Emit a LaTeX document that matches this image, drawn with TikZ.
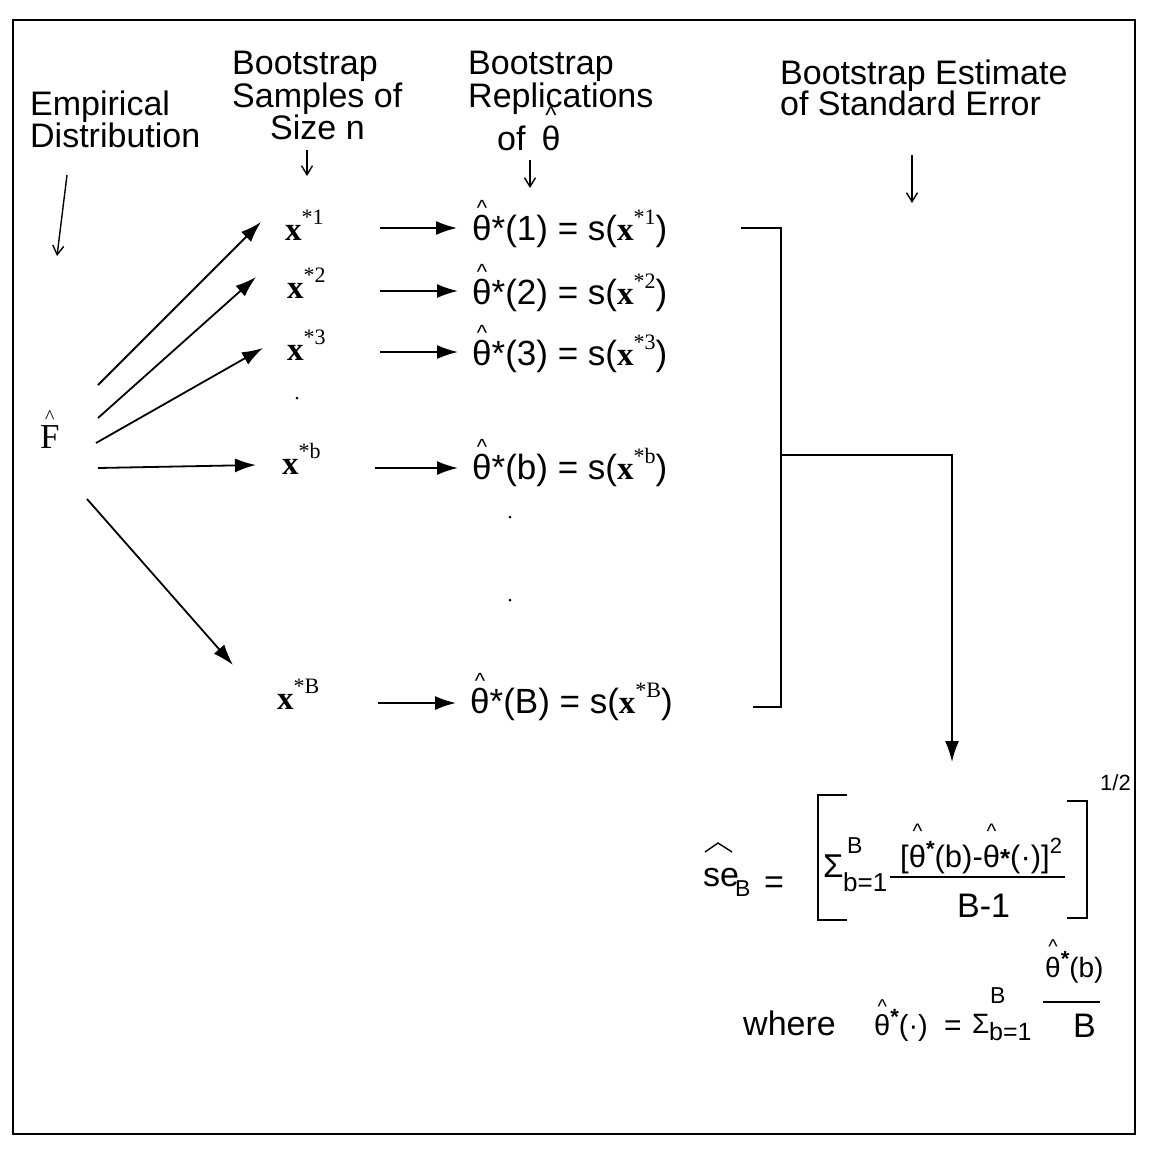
\documentclass[tikz,border=0pt]{standalone}
\usepackage{fontspec}
\setmainfont{Liberation Sans}
\newfontfamily\tms{Liberation Serif}
\usetikzlibrary{arrows.meta}
\newcommand\fs[1]{\fontsize{#1}{#1}\selectfont}
% hat over a glyph: #1 raise, #2 hat size, #3 base
\newcommand\hatt[3]{\ooalign{#3\cr\hidewidth\raisebox{#1}{\fs{#2}\char"5E}\hidewidth\cr}}
\newcommand\xx[1]{{\tms\bfseries\fs{33}x}\raisebox{16pt}{\tms\fs{22}*#1}}
\newcommand\rowth[1]{\hatt{25pt}{22}{θ}*(#1) = s(\xx{#1})}
\tikzset{
  lbl/.style={inner sep=0pt, anchor=base west, font=\fs{34}},
  arr/.style={-{Latex[length=21pt,width=14pt]}, line width=1.8pt},
  sarr/.style={-{Straight Barb[length=9pt,width=11pt]}, line width=1.4pt},
  ln/.style={line width=1.8pt},
  dotm/.style={circle, fill=black, inner sep=0pt, minimum size=3pt}
}
\begin{document}
\begin{tikzpicture}[x=1pt,y=-1pt]
\useasboundingbox (0,0) rectangle (1150,1154);
\draw[line width=2pt] (13,20) rectangle (1135,1134);

% headers
\node[lbl] (emp1) at (30,115) {Empirical};
\node[lbl] (emp2) at (30,147) {Distribution};
\node[lbl] (bs1) at (232,74) {Bootstrap};
\node[lbl] (bs2) at (232,107) {Samples of};
\node[lbl] (bs3) at (270,139) {Size n};
\node[lbl] (br1) at (468,74) {Bootstrap};
\node[lbl] (br2) at (468,107) {Replications};
\node[lbl] (br3) at (497,150) {of\hspace{16pt}\hatt{27pt}{24}{θ}};
\node[lbl] (be1) at (780,84) {Bootstrap Estimate};
\node[lbl] (be2) at (780,115) {of Standard Error};

% small down arrows
\coordinate (a0s) at (67,175); \coordinate (a0e) at (57,256);
\coordinate (a1s) at (307,150); \coordinate (a1e) at (307,176);
\coordinate (a2s) at (530,160); \coordinate (a2e) at (530,188);
\coordinate (a3s) at (912,155); \coordinate (a3e) at (912,203);
\draw[sarr] (a0s) -- (a0e);
\draw[sarr] (a1s) -- (a1e);
\draw[sarr] (a2s) -- (a2e);
\draw[sarr] (a3s) -- (a3e);

% F hat
\node[inner sep=0pt, anchor=base west, font=\tms\fs{35}] (F) at (40,448) {\hatt{25pt}{20}{F}};

% sample labels
\node[inner sep=0pt, anchor=base west] (x1) at (285,240) {\xx{1}};
\node[inner sep=0pt, anchor=base west] (x2) at (287,298) {\xx{2}};
\node[inner sep=0pt, anchor=base west] (x3) at (287,360) {\xx{3}};
\node[inner sep=0pt, anchor=base west] (xb) at (282,474) {\xx{b}};
\node[inner sep=0pt, anchor=base west] (xB) at (277,709) {\xx{B}};

% replications
\node[lbl, font=\fs{35}] (t1) at (472,240) {\rowth{1}};
\node[lbl, font=\fs{35}] (t2) at (472,304) {\rowth{2}};
\node[lbl, font=\fs{35}] (t3) at (472,365) {\rowth{3}};
\node[lbl, font=\fs{35}] (tb) at (472,479) {\rowth{b}};
\node[lbl, font=\fs{35}] (tB) at (470,713) {\rowth{B}};

% arrows from F hat
\coordinate (f1s) at (98,385);  \coordinate (f1e) at (261,222);
\coordinate (f2s) at (98,418);  \coordinate (f2e) at (256,277);
\coordinate (f3s) at (96,443);  \coordinate (f3e) at (263,348);
\coordinate (fbs) at (98,468);  \coordinate (fbe) at (256,465);
\coordinate (fBs) at (87,499);  \coordinate (fBe) at (233,665);
\draw[arr] (f1s) -- (f1e);
\draw[arr] (f2s) -- (f2e);
\draw[arr] (f3s) -- (f3e);
\draw[arr] (fbs) -- (fbe);
\draw[arr] (fBs) -- (fBe);

% row arrows
\coordinate (r1s) at (380,228); \coordinate (r1e) at (457,228);
\coordinate (r2s) at (380,291); \coordinate (r2e) at (458,291);
\coordinate (r3s) at (380,352); \coordinate (r3e) at (458,352);
\coordinate (rbs) at (375,468); \coordinate (rbe) at (458,468);
\coordinate (rBs) at (378,703); \coordinate (rBe) at (456,703);
\draw[arr] (r1s) -- (r1e);
\draw[arr] (r2s) -- (r2e);
\draw[arr] (r3s) -- (r3e);
\draw[arr] (rbs) -- (rbe);
\draw[arr] (rBs) -- (rBe);

% ellipsis dots
\node[dotm] (d1) at (297,398) {};
\node[dotm] (d2) at (510,517) {};
\node[dotm] (d3) at (510,600) {};

% bracket and arrow to formula
\coordinate (bt0) at (741,228); \coordinate (bt1) at (781,228);
\coordinate (bb1) at (781,707); \coordinate (bb0) at (753,707);
\coordinate (bm0) at (781,455); \coordinate (bm1) at (952,455);
\coordinate (bme) at (952,762);
\draw[ln] (bt0) -- (bt1) -- (bb1) -- (bb0);
\draw[arr] (bm0) -- (bm1) -- (bme);

% formula 1
\node[lbl] (se) at (703,886) {se};
\draw[line width=1.4pt] ([xshift=2pt,yshift=34pt]se.base west) -- ([xshift=15pt,yshift=43pt]se.base west) -- ([xshift=29pt,yshift=34pt]se.base west);
\node[lbl, font=\fs{23}] (seB) at (735,896) {B};
\node[lbl] (eq1) at (764,893) {=};
\coordinate (lb0) at (847,795); \coordinate (lb1) at (818,795);
\coordinate (lb2) at (818,920); \coordinate (lb3) at (847,920);
\coordinate (rb0) at (1067,801); \coordinate (rb1) at (1087,801);
\coordinate (rb2) at (1087,918); \coordinate (rb3) at (1067,918);
\draw[line width=2.2pt] (lb0) -- (lb1) -- (lb2) -- (lb3);
\draw[line width=2.2pt] (rb0) -- (rb1) -- (rb2) -- (rb3);
\node[lbl, font=\fs{22}] (half) at (1100,790) {1/2};
\node[lbl, font=\fs{33}] (sig1) at (823,877) {Σ};
\node[lbl, font=\fs{23}] (sig1B) at (847,853) {B};
\node[lbl, font=\fs{26}] (sig1b) at (843,891) {b=1};
\coordinate (fl0) at (890,877); \coordinate (fl1) at (1065,877);
\draw[line width=1.5pt] (fl0) -- (fl1);
\node[lbl, font=\fs{31}] (num1) at (900,867) {[\hatt{29pt}{21}{θ}\raisebox{11pt}{\fs{22}\bfseries *}(b)-\hatt{29pt}{21}{θ}{\fs{26}\bfseries *}(\textperiodcentered)]\raisebox{14pt}{\fs{22}2}};
\node[lbl] (den1) at (957,917) {B-1};

% formula 2
\node[lbl] (where) at (743,1035) {where};
\node[lbl, font=\fs{29}] (th2) at (874,1035) {\hatt{22pt}{20}{θ}\raisebox{11pt}{\fs{22}\bfseries *}(\textperiodcentered)};
\node[lbl, font=\fs{30}] (eq2) at (944,1035) {=};
\node[lbl, font=\fs{28}] (sig2) at (972,1033) {Σ};
\node[lbl, font=\fs{23}] (sig2B) at (990,1003) {B};
\node[lbl, font=\fs{25}] (sig2b) at (989,1040) {b=1};
\coordinate (fm0) at (1043,1002); \coordinate (fm1) at (1100,1002);
\draw[line width=1.5pt] (fm0) -- (fm1);
\node[lbl, font=\fs{28}] (num2) at (1045,977) {\hatt{24pt}{20}{θ}\raisebox{11pt}{\fs{22}\bfseries *}(b)};
\node[lbl] (den2) at (1073,1037) {B};
\end{tikzpicture}
\end{document}
